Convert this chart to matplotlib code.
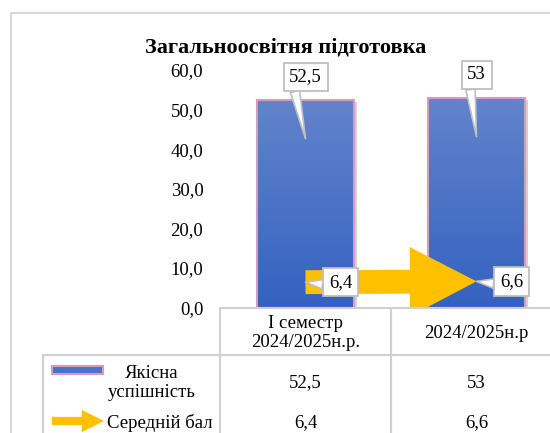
import matplotlib
matplotlib.use("Agg")
import matplotlib.pyplot as plt
import numpy as np
from matplotlib.lines import Line2D
from matplotlib.patches import Rectangle, FancyArrowPatch
from matplotlib.colors import LinearSegmentedColormap
from matplotlib.transforms import offset_copy
import matplotlib.patheffects as pe

# ---------------- data ----------------
title = "Загальноосвітня підготовка"
categories = ["І семестр\n2024/2025н.р.", "2024/2025н.р"]
series_names = ["Якісна\nуспішність", "Середній бал"]
quality = [52.5, 53]
avg_score = [6.4, 6.6]
yticks = [0, 10, 20, 30, 40, 50, 60]

def fmt(v):
    return f"{v:g}".replace(".", ",")

# ---------------- style ----------------
W, H = 550, 433
DPI = 100
plt.rcParams["font.family"] = ["Liberation Serif", "DejaVu Serif"]
FS = 13.5
BLUE_TOP = "#6383CC"
BLUE_BOT = "#3462C0"
PINK = "#D99ABB"
YELLOW = "#FFC000"
GRID = "#D9D9D9"

fig = plt.figure(figsize=(W / DPI, H / DPI), dpi=DPI)
fig.patch.set_facecolor("white")

def fx(x):
    return x / W

def fy(y):
    return 1 - y / H

# axes: plot area from x=220..562 px, y=70..307.5 px
ax = fig.add_axes([fx(220), fy(307.5), (562 - 220) / W, (307.5 - 70) / H])
ax.set_xlim(-0.5, 1.5)
ax.set_ylim(0, 60)
ax.patch.set_alpha(0)
for s in ax.spines.values():
    s.set_visible(False)
ax.set_xticks([])
ax.set_yticks(yticks)
ax.set_yticklabels([f"{v:.1f}".replace(".", ",") for v in yticks], fontsize=FS)
ax.tick_params(axis="y", length=0, pad=12)

x = np.arange(len(categories))
bw = 0.565

# shadow + bars
bars = ax.bar(x, quality, width=bw, color=BLUE_BOT, edgecolor="none", zorder=2,
              path_effects=[pe.SimplePatchShadow(offset=(2, -2), shadow_rgbFace="#808080", alpha=0.35), pe.Normal()])
cmap = LinearSegmentedColormap.from_list("g", [BLUE_BOT, BLUE_TOP])
grad = np.linspace(0, 1, 256).reshape(-1, 1)
for b in bars:
    x0, w, h = b.get_x(), b.get_width(), b.get_height()
    im = ax.imshow(grad, extent=[x0, x0 + w, 0, h], origin="lower", aspect="auto",
                   cmap=cmap, zorder=2.2, interpolation="bicubic")
    im.set_clip_path(b)
ax.bar(x, quality, width=bw, color="none", edgecolor=PINK, linewidth=1.5, zorder=2.5)
ax.set_xlim(-0.5, 1.5)
ax.set_ylim(0, 60)

# arrow line series
arr = FancyArrowPatch((x[0], avg_score[0]), (x[1], avg_score[1]),
                      arrowstyle="simple,head_length=4.8,head_width=5.0,tail_width=1.72",
                      mutation_scale=10, shrinkA=0, shrinkB=0,
                      color=YELLOW, lw=0, zorder=3)
ax.add_patch(arr)

# data labels (callouts)
box = dict(boxstyle="square,pad=0.3", fc="white", ec="#BFBFBF", lw=1.3)
wedge = dict(arrowstyle="wedge,tail_width=0.5,shrink_factor=0.5", fc="white",
             ec="#BFBFBF", lw=1.2, shrinkA=0, shrinkB=0)
for i, v in enumerate(quality):
    tr = offset_copy(ax.transData, fig=fig, x=0, y=-39, units="dots")
    ax.annotate(fmt(v), xy=(x[i], v), xycoords=tr, xytext=(0, 62), textcoords="offset pixels",
                ha="center", va="center", fontsize=FS, bbox=box, zorder=5,
                arrowprops=dict(wedge, relpos=(0.12, 0.15)), annotation_clip=False)
for i, v in enumerate(avg_score):
    ax.annotate(fmt(v), xy=(x[i], v), xycoords="data", xytext=(35, 0), textcoords="offset pixels",
                ha="center", va="center", fontsize=FS, bbox=box, zorder=5,
                arrowprops=dict(wedge, relpos=(0.15, 0.3)), annotation_clip=False)

# title
fig.text(fx(286), fy(48), title, ha="center", va="center", fontsize=16, fontweight="bold")

# outer border
fig.add_artist(Line2D([fx(11), fx(W + 5)], [fy(13), fy(13)], color=GRID, lw=1.5))
fig.add_artist(Line2D([fx(11), fx(11)], [fy(13), fy(H + 5)], color=GRID, lw=1.5))

# data table
LC = "#D0D0D0"
col_edges = [43, 220, 391, 562]
hdr_top, row_top = 308, 355
fig.add_artist(Rectangle((fx(220), fy(H + 5)), (562 - 220) / W, (H + 5 - hdr_top) / H,
                         transform=fig.transFigure, fc="white", ec="none", zorder=4))
fig.add_artist(Line2D([fx(220), fx(W + 5)], [fy(hdr_top), fy(hdr_top)], color=LC, lw=1.5, zorder=6))
fig.add_artist(Line2D([fx(43), fx(W + 5)], [fy(row_top), fy(row_top)], color=LC, lw=1.5, zorder=6))
fig.add_artist(Line2D([fx(43), fx(43)], [fy(row_top), fy(H + 5)], color=LC, lw=1.5, zorder=6))
for cx in (220, 391):
    fig.add_artist(Line2D([fx(cx), fx(cx)], [fy(hdr_top), fy(H + 5)], color=LC, lw=1.5, zorder=6))

col_centers = [(col_edges[i + 1] + col_edges[i + 2]) / 2 for i in range(len(categories))]
for cx, cat in zip(col_centers, categories):
    fig.text(fx(cx), fy(333), cat, ha="center", va="center", fontsize=FS, linespacing=1.15, zorder=7)
row_y = [383, 423]
for cx, v in zip(col_centers, quality):
    fig.text(fx(cx), fy(row_y[0]), fmt(v), ha="center", va="center", fontsize=FS, zorder=7)
for cx, v in zip(col_centers, avg_score):
    fig.text(fx(cx), fy(row_y[1]), fmt(v), ha="center", va="center", fontsize=FS, zorder=7)

# legend keys
fig.add_artist(Rectangle((fx(52), fy(374)), (103 - 52) / W, (374 - 366) / H, transform=fig.transFigure,
                         fc="#4A72C6", ec=PINK, lw=1.5, zorder=7))
fig.add_artist(FancyArrowPatch((fx(52), fy(421)), (fx(104), fy(421)), transform=fig.transFigure,
                               arrowstyle="simple,head_length=1.6,head_width=1.6,tail_width=0.6",
                               mutation_scale=10, shrinkA=0, shrinkB=0, color=YELLOW, lw=0, zorder=7))
fig.text(fx(152), fy(383), series_names[0], ha="center", va="center", fontsize=FS, linespacing=1.1, zorder=7)
fig.text(fx(160), fy(423), series_names[1], ha="center", va="center", fontsize=FS, zorder=7)

fig.savefig("out.png", dpi=DPI, facecolor="white")
